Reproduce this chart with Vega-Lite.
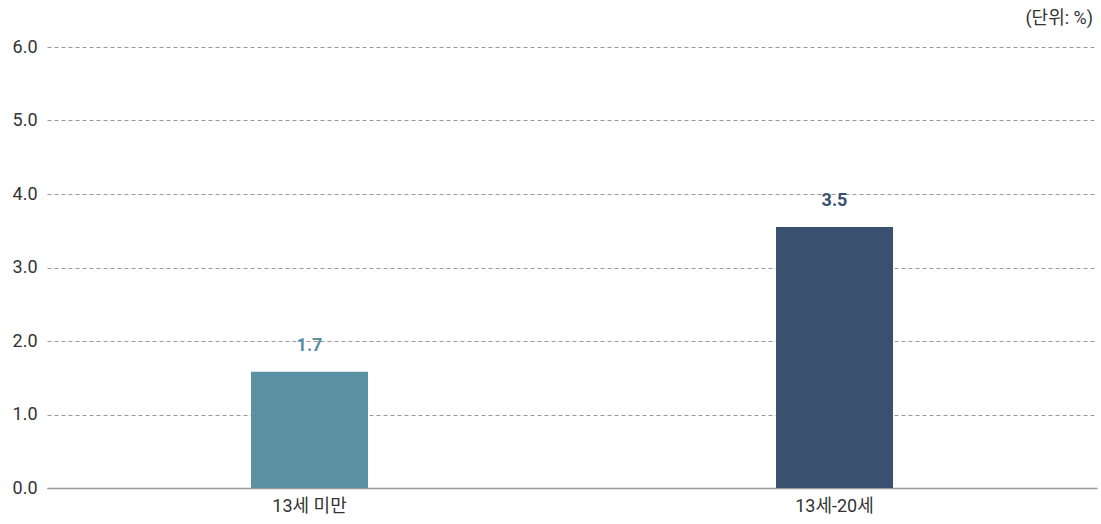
{
  "$schema": "https://vega.github.io/schema/vega-lite/v6.json",
  "autosize": {"type": "none"},
  "padding": {"left": 47, "top": 47, "right": 4, "bottom": 36},
  "width": 1050,
  "height": 441,
  "background": "white",
  "config": {
    "view": {"stroke": null},
    "font": "Roboto, Noto Sans CJK KR"
  },
  "title": {
    "text": "(단위: %)",
    "orient": "top",
    "anchor": "end",
    "offset": 10,
    "fontSize": 18,
    "fontWeight": "normal",
    "color": "#333333",
    "dx": -4,
    "font": "Roboto, Noto Sans CJK KR"
  },
  "data": {
    "values": [
      {"group": "13세 미만", "value": 1.58, "label": "1.7"},
      {"group": "13세-20세", "value": 3.55, "label": "3.5"}
    ]
  },
  "encoding": {
    "x": {
      "field": "group",
      "type": "nominal",
      "sort": null,
      "scale": {"paddingInner": 0, "paddingOuter": 0},
      "axis": {
        "title": null,
        "labelAngle": 0,
        "labelFontSize": 18,
        "labelColor": "#333333",
        "labelPadding": 9,
        "ticks": false,
        "domain": true,
        "domainColor": "#999999",
        "domainWidth": 1.5
      }
    },
    "y": {
      "field": "value",
      "type": "quantitative",
      "scale": {"domain": [0, 6], "nice": false},
      "axis": {
        "title": null,
        "values": [0, 1, 2, 3, 4, 5, 6],
        "format": ".1f",
        "labelFontSize": 18,
        "labelColor": "#333333",
        "labelPadding": 10,
        "ticks": false,
        "domain": false,
        "grid": true,
        "gridColor": "#999999",
        "gridDash": [4, 3],
        "gridWidth": 1.2
      }
    },
    "color": {
      "field": "group",
      "type": "nominal",
      "sort": null,
      "scale": {"range": ["#5b91a3", "#3a506f"]},
      "legend": null
    }
  },
  "layer": [
    {"mark": {"type": "bar", "size": 117}},
    {
      "mark": {"type": "text", "dy": -26, "fontSize": 18, "fontWeight": "bold", "baseline": "middle"},
      "encoding": {"text": {"field": "label"}}
    }
  ]
}
